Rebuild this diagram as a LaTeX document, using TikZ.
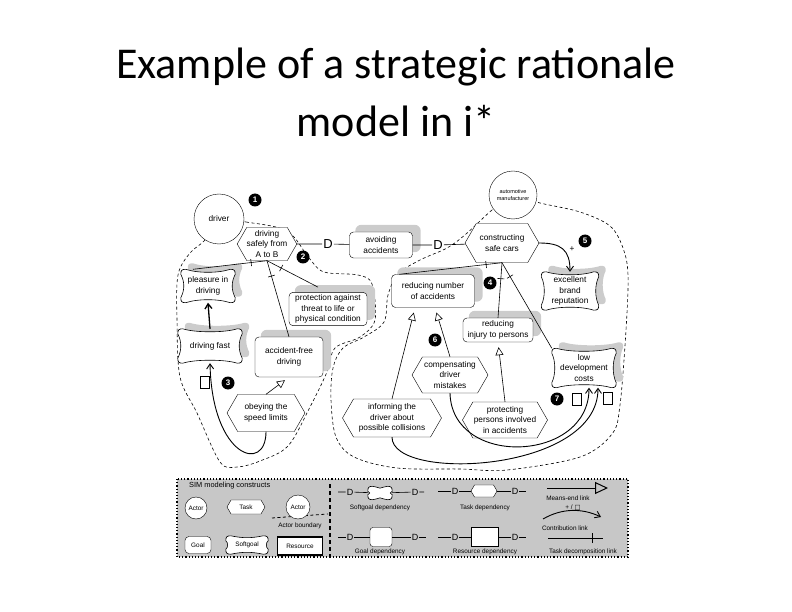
\documentclass[tikz,border=0pt]{standalone}
\usepackage{fontspec}
\newfontfamily\titlefont{Carlito}
\newfontfamily\diagfont{Liberation Sans}
\newfontfamily\symfont{DejaVu Sans}
\usetikzlibrary{arrows.meta,calc,shapes.symbols,backgrounds,decorations.markings}
\newcommand{\diag}{\diagfont\fontsize{8.3}{10.8}\selectfont}
\newcommand{\legfont}{\diagfont\fontsize{6.4}{7.5}\selectfont}
\newcommand{\tinyfont}{\diagfont\fontsize{5.5}{7}\selectfont}
% outline of a softgoal round node #1, shifted by (#2,#3), pinched by #4, side pull #5
\newcommand{\sgpath}[5]{($(#1.north west)+(#2+5,#3)$) .. controls +(12,#4) and +(-12,#4) .. ($(#1.north east)+(#2-5,#3)$)
 .. controls +(4,0) and +(0,-4) .. ($(#1.north east)+(#2,#3+5)$)
 .. controls +(-#4,#5) and +(-#4,-#5) .. ($(#1.south east)+(#2,#3-5)$)
 .. controls +(0,4) and +(4,0) .. ($(#1.south east)+(#2-5,#3)$)
 .. controls +(-12,-#4) and +(12,-#4) .. ($(#1.south west)+(#2+5,#3)$)
 .. controls +(-4,0) and +(0,4) .. ($(#1.south west)+(#2,#3-5)$)
 .. controls +(#4,-#5) and +(#4,#5) .. ($(#1.north west)+(#2,#3+5)$)
 .. controls +(0,-4) and +(-4,0) .. ($(#1.north west)+(#2+5,#3)$) -- cycle}
\tikzset{
  dtext/.style={font=\diag, align=center, inner sep=1pt},
  actor/.style={circle, draw, fill=white, dtext},
  goal/.style={draw, fill=white, rounded corners=4pt, dtext, inner sep=2pt},
  task/.style={signal, signal to=east and west, signal pointer angle=120, draw, fill=white, dtext},
  softgoal/.style={dtext, inner sep=3pt},
  resource/.style={draw, line width=1.3pt, fill=white, dtext},
  depD/.style={font=\diagfont\fontsize{13}{13}\selectfont, inner sep=1pt},
  legD/.style={font=\diagfont\fontsize{9}{9}\selectfont, inner sep=1pt},
  legtext/.style={font=\legfont, inner sep=0pt},
  num/.style={circle, fill=black, text=white, font=\diagfont\bfseries\fontsize{8}{8}\selectfont, inner sep=0pt, minimum size=13pt},
  qbox/.style={draw, fill=white, minimum width=9pt, minimum height=12pt, inner sep=0pt},
  shade/.style={fill=black!20, rounded corners=6pt},
  boundary/.style={dash pattern=on 3pt off 2.5pt, line width=0.6pt},
  link/.style={line width=0.6pt},
  decomp/.style={link, postaction={decorate, decoration={markings, mark=at position 16pt with {\draw[link] (0,-3.5pt) -- (0,3.5pt);}}}},
  meansend/.style={link, shorten >=5pt, -{Triangle[open, length=8pt, width=8pt]}},
  contrib/.style={line width=0.9pt, -{Straight Barb[length=5pt, width=7pt]}},
}
\begin{document}
\begin{tikzpicture}[x=1pt,y=-1pt]
\useasboundingbox (0,0) rectangle (792,612);
% title
\node[font=\titlefont\fontsize{44}{44}\selectfont, anchor=base] (title1) at (396,79) {Example of a strategic rationale};
\node[font=\titlefont\fontsize{44}{44}\selectfont, anchor=base] (title2) at (396,137) {model in i*};

% driver
\node[actor, minimum size=50pt] (driver) at (219,219) {driver};
\node[num] (m1) at (255,200) {1};
\node[task, minimum width=57pt, minimum height=33pt, inner sep=0pt] (drivesafe) at (267,244) {driving\\safely from\\A to B};
\node[num] (m2) at (303,257) {2};
\node[softgoal, minimum width=54pt, minimum height=33pt] (pleasure) at (208,286) {pleasure in\\driving};
\node[goal, minimum width=78pt, minimum height=32pt] (protection) at (328,309) {protection against\\threat to life or\\physical condition};
\node[softgoal, minimum width=64pt, minimum height=34pt] (fast) at (210,346) {driving fast};
\node[goal, minimum width=68pt, minimum height=40pt] (accfree) at (289,357) {accident-free\\driving};
\node[num] (m3) at (228,383) {3};
\node[qbox] (q3) at (205,382) {};
\node[task, minimum width=78pt, minimum height=37pt] (obey) at (266,413) {obeying the\\speed limits};

% dependency
\node[depD] (D1) at (328,244) {D};
\node[goal, minimum width=63pt, minimum height=26pt] (avoid) at (381,245) {avoiding\\accidents};
\node[depD] (D2) at (438,245) {D};

% automotive manufacturer
\node[actor, minimum size=48pt, font=\tinyfont] (manuf) at (513,195) {automotive\\manufacturer};
\node[task, minimum width=74pt, minimum height=39pt] (safecars) at (502,243) {constructing\\safe cars};
\node[num] (m5) at (585,241) {5};
\node[font=\diag, inner sep=0pt] (plus) at (572,249) {+};
\node[softgoal, minimum width=57pt, minimum height=38pt] (brand) at (570,291) {excellent\\brand\\reputation};
\node[num] (m4) at (490,283) {4};
\node[goal, minimum width=83pt, minimum height=33pt] (rednum) at (433,291) {reducing number\\of accidents};
\node[goal, minimum width=70pt, minimum height=24pt] (redinj) at (498,330) {reducing\\injury to persons};
\node[softgoal, minimum width=64pt, minimum height=39pt] (lowcost) at (584,368) {low\\development\\costs};
\node[num] (m7) at (557,399) {7};
\node[qbox] (q1) at (577,399) {};
\node[qbox] (q2) at (608,398) {};
\node[num] (m6) at (435,340) {6};
\node[task, minimum width=76pt, minimum height=36pt] (compens) at (450,375) {compensating\\driver\\mistakes};
\node[task, minimum width=99pt, minimum height=38pt] (inform) at (392,418) {informing the\\driver about\\possible collisions};
\node[task, minimum width=74pt, minimum height=36pt] (protect) at (505,420) {protecting\\persons involved\\in accidents};

% links
\draw[link] (drivesafe) -- (D1) -- (avoid);
\draw[link] (avoid) -- (D2) -- (safecars);
\draw[decomp] (drivesafe.south) -- ($(pleasure.north)+(-15,0)$);
\draw[decomp] (drivesafe.south) -- ($(protection.north)+(-10,-5)$);
\draw[decomp] (drivesafe.south) -- (accfree.north);
\draw[decomp] (safecars.south) -- ($(rednum.north west)+(8,0)$);
\draw[decomp] (safecars.south) -- (redinj.north);
\draw[decomp] (safecars.south) -- (lowcost.north west);
\draw[meansend] (obey.north) -- (accfree.south);
\draw[meansend] (inform.north) -- ($(rednum.south)+(-18,0)$);
\draw[meansend] (compens.north) -- ($(rednum.south)+(2,0)$);
\draw[meansend] (protect.north) -- (redinj.south);
\draw[contrib, line width=1.3pt] (fast.north) -- (pleasure.south);
\draw[contrib] (obey.south) .. controls +(0,42) and +(2,95) .. (fast.south);
\draw[contrib] (safecars.east) .. controls +(22,0) and +(0,-22) .. (brand.north);
\draw[contrib] (compens.south) .. controls +(2,75) and +(0,75) .. ($(lowcost.south)+(5,0)$);
\draw[contrib] (inform.south) .. controls +(0,45) and +(0,85) .. ($(lowcost.south)+(14,0)$);

% legend
\node[anchor=west, font=\diagfont\fontsize{7.4}{8}\selectfont, inner sep=0pt] (lhead) at (189,486) {SIM modeling constructs};
\node[actor, minimum size=22pt, font=\legfont, inner sep=0pt] (lactor) at (196,508) {Actor};
\node[task, minimum width=38pt, minimum height=14pt, font=\legfont, inner sep=0pt] (ltask) at (246,507) {Task};
\node[actor, minimum size=24pt, font=\legfont, inner sep=0pt] (lactorb) at (298,507) {Actor};
\coordinate (lb1) at (272,518);
\coordinate (lb2) at (328,514);
\node[legtext] (lbtext) at (300,526) {Actor boundary};
\node[goal, minimum width=26pt, minimum height=17pt, font=\legfont] (lgoal) at (198,545) {Goal};
\node[softgoal, minimum width=42pt, minimum height=18pt, font=\legfont, inner sep=1pt] (lsoft) at (247,545) {Softgoal};
\node[resource, minimum width=45pt, minimum height=18pt, font=\legfont] (lres) at (300,546) {Resource};
\coordinate (sep1) at (330,484);
\coordinate (sep2) at (330,556);
\draw[line width=1.1pt, dash pattern=on 4pt off 3pt] (sep1) -- (sep2);
% dependency kinds
\coordinate (sdL) at (338,492);
\node[legD] (sdD1) at (350,492) {D};
\node[softgoal, minimum width=24pt, minimum height=13pt, inner sep=0pt] (sdS) at (380,493) {};
\node[legD] (sdD2) at (415,492) {D};
\coordinate (sdR) at (424,492);
\draw[link] (sdL) -- (sdD1) -- (sdS) -- (sdD2) -- (sdR);
\node[legtext] (sdT) at (380,508) {Softgoal dependency};
\coordinate (gdL) at (338,537);
\node[legD] (gdD1) at (350,537) {D};
\node[goal, minimum width=22pt, minimum height=19pt, rounded corners=3pt] (gdS) at (381,537) {};
\node[legD] (gdD2) at (415,537) {D};
\coordinate (gdR) at (426,537);
\draw[line width=1pt] (gdL) -- (gdD1) -- (gdS) -- (gdD2) -- (gdR);
\node[legtext] (gdT) at (380,552) {Goal dependency};
\coordinate (tdL) at (438,491);
\node[legD] (tdD1) at (455,491) {D};
\node[task, minimum width=26pt, minimum height=12pt, inner sep=0pt] (tdS) at (484,491) {};
\node[legD] (tdD2) at (515,491) {D};
\coordinate (tdR) at (526,491);
\draw[link] (tdL) -- (tdD1) -- (tdS) -- (tdD2) -- (tdR);
\node[legtext] (tdT) at (485,508) {Task dependency};
\coordinate (rdL) at (438,537);
\node[legD] (rdD1) at (455,537) {D};
\node[resource, minimum width=27pt, minimum height=19pt] (rdS) at (485,537) {};
\node[legD] (rdD2) at (515,537) {D};
\coordinate (rdR) at (526,537);
\draw[line width=1pt] (rdL) -- (rdD1) -- (rdS) -- (rdD2) -- (rdR);
\node[legtext] (rdT) at (485,552) {Resource dependency};
% link kinds
\coordinate (me1) at (547,488);
\coordinate (me2) at (608,488);
\draw[line width=1pt, -{Triangle[open, length=13pt, width=12pt]}] (me1) -- (me2);
\node[legtext] (meT) at (568,498) {Means-end link};
\node[legtext] (pq) at (573,508) {+ / {\symfont □}};
\coordinate (cl1) at (543,519);
\coordinate (cl2) at (601,517);
\draw[contrib] (cl1) .. controls (562,508) and (582,508) .. (cl2);
\node[legtext] (clT) at (565,528) {Contribution link};
\coordinate (td1) at (548,538);
\coordinate (td2) at (603,538);
\draw[line width=1pt, postaction={decorate, decoration={markings, mark=at position -11pt with {\draw[line width=1pt] (0,-5pt) -- (0,5pt);}}}] (td1) -- (td2);
\node[legtext] (tdlT) at (583,552) {Task decomposition link};

% boundaries, shadows and softgoal outlines
\begin{scope}[on background layer]
\filldraw[fill=black!22, draw=black, line width=1.2pt, dotted] (177,479) rectangle (628,557);
\draw[boundary] plot[smooth cycle, tension=0.55] coordinates {(218,219) (246,222) (287,231) (309,258) (324,272) (358,275) (372,284) (375,320) (360,337) (335,348) (327,372) (310,407) (288,446) (260,461) (237,467) (220,462) (197,413) (180,377) (177,320) (178,275) (190,253) (205,240)};
\draw[boundary] plot[smooth cycle, tension=0.55] coordinates {(513,195) (492,210) (466,234) (447,248) (420,260) (398,274) (388,295) (384,322) (364,337) (343,348) (333,368) (331,400) (336,437) (354,457) (397,468) (460,469) (507,470) (580,457) (612,434) (620,405) (626,330) (628,275) (623,248) (610,226) (580,212) (540,203)};
\draw[boundary, line width=0.8pt] (lb1) -- (lb2);
\foreach \n in {avoid,rednum,redinj,protection,accfree}
  \fill[shade] ($(\n.south west)+(6,-6)$) rectangle ($(\n.north east)+(8,-7)$);
\foreach \n in {pleasure,fast,brand,lowcost}
  \fill[black!20] \sgpath{\n}{7}{-6}{4}{8};
\foreach \n in {pleasure,fast,brand,lowcost}
  \draw[link, fill=white] \sgpath{\n}{0}{0}{4}{8};
\foreach \n in {lsoft,sdS}
  \draw[link, fill=white] \sgpath{\n}{0}{0}{2.5}{2};
\end{scope}
\end{tikzpicture}
\end{document}
